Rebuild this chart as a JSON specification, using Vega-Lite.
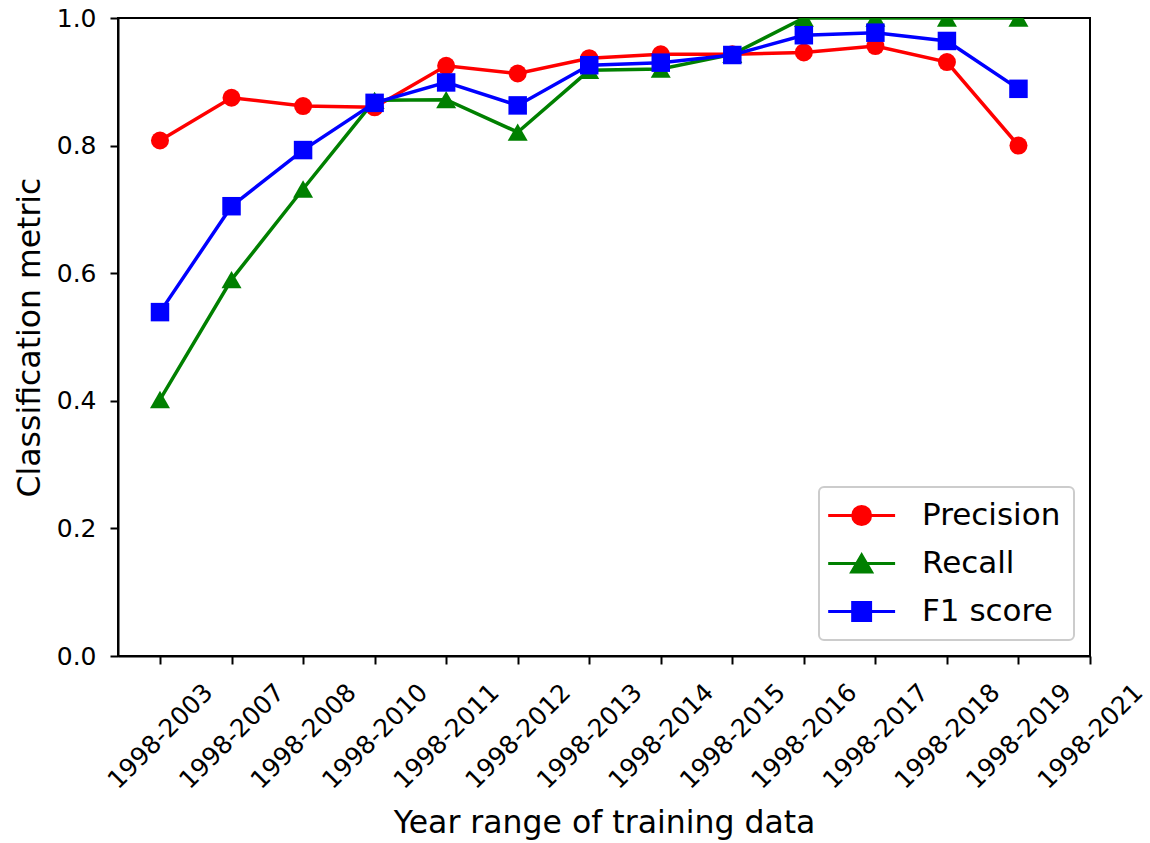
{
  "$schema": "https://vega.github.io/schema/vega-lite/v6.json",
  "width": 972,
  "height": 638,
  "autosize": {"type": "none"},
  "padding": {"left": 118, "top": 18, "right": 60, "bottom": 187},
  "background": "white",
  "config": {
    "font": "DejaVu Sans",
    "view": {"stroke": "black", "strokeWidth": 2},
    "axis": {
      "labelFont": "DejaVu Sans",
      "titleFont": "DejaVu Sans",
      "labelColor": "black",
      "titleColor": "black",
      "titleFontWeight": "normal",
      "domainColor": "black",
      "domainWidth": 2,
      "tickColor": "black",
      "tickWidth": 2,
      "tickSize": 8,
      "grid": false
    }
  },
  "data": {
    "values": [
      {"range": "1998-2003", "metric": "Precision", "value": 0.808},
      {"range": "1998-2007", "metric": "Precision", "value": 0.875},
      {"range": "1998-2008", "metric": "Precision", "value": 0.862},
      {"range": "1998-2010", "metric": "Precision", "value": 0.860},
      {"range": "1998-2011", "metric": "Precision", "value": 0.925},
      {"range": "1998-2012", "metric": "Precision", "value": 0.913},
      {"range": "1998-2013", "metric": "Precision", "value": 0.937},
      {"range": "1998-2014", "metric": "Precision", "value": 0.943},
      {"range": "1998-2015", "metric": "Precision", "value": 0.943},
      {"range": "1998-2016", "metric": "Precision", "value": 0.946},
      {"range": "1998-2017", "metric": "Precision", "value": 0.956},
      {"range": "1998-2018", "metric": "Precision", "value": 0.931},
      {"range": "1998-2019", "metric": "Precision", "value": 0.800},
      {"range": "1998-2003", "metric": "Recall", "value": 0.402},
      {"range": "1998-2007", "metric": "Recall", "value": 0.590},
      {"range": "1998-2008", "metric": "Recall", "value": 0.732},
      {"range": "1998-2010", "metric": "Recall", "value": 0.871},
      {"range": "1998-2011", "metric": "Recall", "value": 0.872},
      {"range": "1998-2012", "metric": "Recall", "value": 0.821},
      {"range": "1998-2013", "metric": "Recall", "value": 0.918},
      {"range": "1998-2014", "metric": "Recall", "value": 0.920},
      {"range": "1998-2015", "metric": "Recall", "value": 0.943},
      {"range": "1998-2016", "metric": "Recall", "value": 1.0},
      {"range": "1998-2017", "metric": "Recall", "value": 1.0},
      {"range": "1998-2018", "metric": "Recall", "value": 1.0},
      {"range": "1998-2019", "metric": "Recall", "value": 1.0},
      {"range": "1998-2003", "metric": "F1 score", "value": 0.539},
      {"range": "1998-2007", "metric": "F1 score", "value": 0.705},
      {"range": "1998-2008", "metric": "F1 score", "value": 0.793},
      {"range": "1998-2010", "metric": "F1 score", "value": 0.867},
      {"range": "1998-2011", "metric": "F1 score", "value": 0.899},
      {"range": "1998-2012", "metric": "F1 score", "value": 0.863},
      {"range": "1998-2013", "metric": "F1 score", "value": 0.926},
      {"range": "1998-2014", "metric": "F1 score", "value": 0.930},
      {"range": "1998-2015", "metric": "F1 score", "value": 0.942},
      {"range": "1998-2016", "metric": "F1 score", "value": 0.973},
      {"range": "1998-2017", "metric": "F1 score", "value": 0.977},
      {"range": "1998-2018", "metric": "F1 score", "value": 0.964},
      {"range": "1998-2019", "metric": "F1 score", "value": 0.889}
    ]
  },
  "encoding": {
    "x": {
      "field": "range",
      "type": "nominal",
      "sort": null,
      "scale": {
        "type": "point",
        "domain": ["1998-2003", "1998-2007", "1998-2008", "1998-2010", "1998-2011", "1998-2012", "1998-2013", "1998-2014", "1998-2015", "1998-2016", "1998-2017", "1998-2018", "1998-2019", "1998-2021"],
        "padding": 0.2935,
        "align": 1
      },
      "axis": {
        "title": "Year range of training data",
        "titleFontSize": 31.5,
        "titlePadding": 14,
        "labelFontSize": 25,
        "labelAngle": -45,
        "labelAlign": "center",
        "labelBaseline": "middle",
        "labelPadding": 72,
        "labelOverlap": false
      }
    },
    "y": {
      "field": "value",
      "type": "quantitative",
      "scale": {"domain": [0, 1], "nice": false, "zero": false},
      "axis": {
        "title": "Classification metric",
        "titleFontSize": 31.5,
        "titlePadding": 10,
        "labelFontSize": 25,
        "labelPadding": 14,
        "values": [0, 0.2, 0.4, 0.6, 0.8, 1.0],
        "format": ".1f"
      }
    },
    "color": {
      "field": "metric",
      "type": "nominal",
      "scale": {"domain": ["Precision", "Recall", "F1 score"], "range": ["#ff0000", "#008000", "#0000ff"]},
      "legend": {
        "title": null,
        "orient": "bottom-right",
        "offset": 16,
        "padding": 13,
        "labelFont": "DejaVu Sans",
        "labelFontSize": 31,
        "labelColor": "black",
        "labelOffset": 59,
        "symbolSize": 784,
        "symbolStrokeWidth": 3,
        "rowPadding": 16,
        "fillColor": "rgba(255,255,255,0.8)",
        "strokeColor": "#cccccc",
        "cornerRadius": 5,
        "encode": {
          "legend": {
            "update": {"strokeWidth": {"value": 2}}
          },
          "symbols": {
            "update": {
              "shape": {"signal": "datum.value === 'Precision' ? 'M-1.38,0L3.4,0M0.37,0A0.64,0.64,0,1,0,1.65,0A0.64,0.64,0,1,0,0.37,0Z' : datum.value === 'Recall' ? 'M-1.38,0L3.4,0M1.01,-0.61L1.72,0.61L0.3,0.61Z' : 'M-1.38,0L3.4,0M0.37,-0.64L1.65,-0.64L1.65,0.64L0.37,0.64Z'"},
              "fill": {"scale": "color", "field": "value"},
              "stroke": {"scale": "color", "field": "value"},
              "strokeWidth": {"value": 3},
              "opacity": {"value": 1},
              "fillOpacity": {"value": 1},
              "strokeOpacity": {"value": 1}
            }
          }
        }
      }
    }
  },
  "layer": [
    {
      "transform": [{"filter": "datum.metric === 'Precision'"}],
      "mark": {"type": "line", "strokeWidth": 3.5, "clip": true}
    },
    {
      "transform": [{"filter": "datum.metric === 'Precision'"}],
      "mark": {"type": "point", "shape": "circle", "size": 324, "filled": true, "opacity": 1, "clip": true}
    },
    {
      "transform": [{"filter": "datum.metric === 'Recall'"}],
      "mark": {"type": "line", "strokeWidth": 3.5, "clip": true}
    },
    {
      "transform": [{"filter": "datum.metric === 'Recall'"}],
      "mark": {"type": "point", "shape": "triangle-up", "size": 400, "filled": true, "opacity": 1, "clip": true}
    },
    {
      "transform": [{"filter": "datum.metric === 'F1 score'"}],
      "mark": {"type": "line", "strokeWidth": 3.5, "clip": true}
    },
    {
      "transform": [{"filter": "datum.metric === 'F1 score'"}],
      "mark": {"type": "point", "shape": "square", "size": 342, "filled": true, "opacity": 1, "clip": true}
    }
  ]
}
